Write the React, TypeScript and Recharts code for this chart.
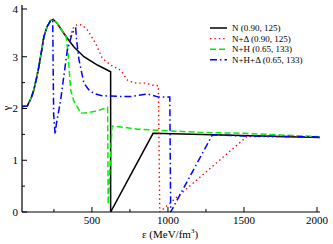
import { LineChart, Line, XAxis, YAxis } from "recharts";

// series: [energy density (MeV/fm^3), gamma]
const nucleons = [
  [42, 2.04], [75, 2.05], [100, 2.2], [118, 2.36], [135, 2.58], [151, 2.81], [168, 3.1],
  [184, 3.39], [205, 3.58], [228, 3.7], [245, 3.72], [270, 3.65], [316, 3.45], [350, 3.31],
  [382, 3.19], [447, 3.0], [536, 2.84], [623, 2.71], [623, 0], [902, 1.52], [2000, 1.44],
];
const nucleonsDelta = [
  [42, 2.04], [75, 2.05], [100, 2.2], [118, 2.36], [135, 2.58], [151, 2.81], [168, 3.1],
  [184, 3.39], [205, 3.58], [228, 3.7], [245, 3.72], [270, 3.65], [316, 3.45], [350, 3.31],
  [365, 3.45], [382, 3.59], [415, 3.63], [440, 3.6], [470, 3.52], [524, 3.26], [568, 2.97],
  [623, 2.84], [689, 2.74], [733, 2.55], [770, 2.5], [799, 2.49], [853, 2.49], [900, 2.45],
  [937, 2.44], [946, 0], [1520, 1.46], [2000, 1.44],
];
const nucleonsHyperons = [
  [42, 2.04], [75, 2.05], [100, 2.2], [118, 2.36], [135, 2.58], [151, 2.81], [168, 3.1],
  [184, 3.39], [205, 3.58], [228, 3.7], [245, 3.72], [270, 3.65], [316, 3.45], [330, 3.4],
  [342, 3.1], [349, 2.81], [360, 2.36], [380, 2.15], [404, 2.03], [426, 1.91], [470, 1.92],
  [513, 1.94], [560, 1.98], [603, 2.02], [607, 0.15], [632, 1.66], [700, 1.64], [800, 1.6],
  [1000, 1.57], [1200, 1.54], [1500, 1.52], [2000, 1.455],
];
const nucleonsHyperonsDelta = [
  [42, 2.04], [75, 2.05], [100, 2.2], [118, 2.36], [135, 2.58], [151, 2.81], [168, 3.1],
  [184, 3.39], [205, 3.58], [228, 3.7], [242, 3.71], [248, 1.9], [258, 1.5], [266, 1.7],
  [294, 2.16], [338, 3.13], [365, 3.4], [382, 3.52], [393, 3.55], [400, 3.3], [415, 2.94],
  [447, 2.49], [480, 2.36], [513, 2.29], [560, 2.25], [623, 2.24], [700, 2.23], [755, 2.23],
  [865, 2.28], [941, 2.22], [1012, 2.22], [1018, 0], [1292, 1.49], [1500, 1.47], [2000, 1.45],
];

const xTicks = [250, 500, 750, 1000, 1250, 1500, 1750, 2000];
const yTicks = [0, 0.5, 1, 1.5, 2, 2.5, 3, 3.5, 4];

const series = [
  { name: "N (0.90, 125)", data: nucleons, color: "#000000", dash: undefined, width: 1.5 },
  { name: "N+\u0394 (0.90, 125)", data: nucleonsDelta, color: "#ff0000", dash: "1.4 3", width: 1.4 },
  { name: "N+H (0.65, 133)", data: nucleonsHyperons, color: "#00ee00", dash: "6 3", width: 1.5 },
  { name: "N+H+\u0394 (0.65, 133)", data: nucleonsHyperonsDelta, color: "#0000ff", dash: "7 3 1.5 3", width: 1.5 },
];

const W = 333;
const H = 244;
const TOP = 5;
const BOTTOM = 212;
const LEFT = 22;
const RIGHT = 320;
const FONT = "'Liberation Serif', 'Times New Roman', serif";

const BottomTick = (p: any) => {
  const v = p.payload.value;
  const major = v % 500 === 0;
  return (
    <g>
      <line x1={p.x} x2={p.x} y1={BOTTOM} y2={BOTTOM - (major ? 5 : 3)} stroke="#000" />
      {major && (
        <text x={p.x} y={BOTTOM + 12} textAnchor="middle" fontSize={11} fontFamily={FONT} fill="#000">
          {v}
        </text>
      )}
    </g>
  );
};

const TopTick = (p: any) => {
  const major = p.payload.value % 500 === 0;
  return <line x1={p.x} x2={p.x} y1={TOP} y2={TOP + (major ? 5 : 3)} stroke="#000" />;
};

const LeftTick = (p: any) => {
  const v = p.payload.value;
  const major = Number.isInteger(v);
  return (
    <g>
      <line x1={LEFT} x2={LEFT + (major ? 5 : 3)} y1={p.y} y2={p.y} stroke="#000" />
      {major && (
        <text x={LEFT - 4} y={p.y} dy="0.35em" textAnchor="end" fontSize={11} fontFamily={FONT} fill="#000">
          {v}
        </text>
      )}
    </g>
  );
};

const RightTick = (p: any) => {
  const major = Number.isInteger(p.payload.value);
  return <line x1={RIGHT} x2={RIGHT - (major ? 5 : 3)} y1={p.y} y2={p.y} stroke="#000" />;
};

export default function App() {
  return (
    <div style={{ position: "absolute", left: 0, top: 0, width: W, height: H, background: "#fff" }}>
      <LineChart width={W} height={H} margin={{ top: TOP, right: W - RIGHT, left: 0, bottom: 0 }}>
        <XAxis
          xAxisId="b"
          type="number"
          dataKey="x"
          domain={[40, 2000]}
          allowDataOverflow
          ticks={xTicks}
          tick={<BottomTick />}
          tickLine={false}
          axisLine={{ stroke: "#000", strokeWidth: 1.2 }}
          height={H - BOTTOM}
        />
        <XAxis
          xAxisId="t"
          orientation="top"
          type="number"
          domain={[40, 2000]}
          allowDataOverflow
          ticks={xTicks}
          tick={<TopTick />}
          tickLine={false}
          axisLine={{ stroke: "#000", strokeWidth: 1.2 }}
          height={0}
        />
        <YAxis
          yAxisId="l"
          type="number"
          domain={[0, 4]}
          allowDataOverflow
          ticks={yTicks}
          tick={<LeftTick />}
          tickLine={false}
          axisLine={{ stroke: "#000", strokeWidth: 1.2 }}
          width={LEFT}
        />
        <YAxis
          yAxisId="r"
          orientation="right"
          type="number"
          domain={[0, 4]}
          allowDataOverflow
          ticks={yTicks}
          tick={<RightTick />}
          tickLine={false}
          axisLine={{ stroke: "#000", strokeWidth: 1.2 }}
          width={0}
        />
        {series.map((s) => (
          <Line
            key={s.name}
            xAxisId="b"
            yAxisId="l"
            data={s.data.map(([x, y]) => ({ x, y }))}
            dataKey="y"
            type="linear"
            stroke={s.color}
            strokeWidth={s.width}
            strokeDasharray={s.dash}
            dot={false}
            activeDot={false}
            isAnimationActive={false}
          />
        ))}
      </LineChart>
      <svg width={W} height={H} style={{ position: "absolute", left: 0, top: 0, pointerEvents: "none" }}>
        {series.map((s, i) => (
          <g key={s.name}>
            <line
              x1={210}
              x2={227}
              y1={28 + i * 10.6}
              y2={28 + i * 10.6}
              stroke={s.color}
              strokeWidth={s.width}
              strokeDasharray={s.dash}
            />
            <text x={232} y={28 + i * 10.6} dy="0.33em" fontSize={9} fontFamily={FONT} fill="#000">
              {s.name}
            </text>
          </g>
        ))}
        <text x={170} y={238} textAnchor="middle" fontSize={11} fontFamily={FONT} fill="#000">
          {"\u03b5 (MeV/fm"}
          <tspan dy={-5} fontSize={7}>3</tspan>
          <tspan dy={5}>)</tspan>
        </text>
        <text
          x={10}
          y={108}
          textAnchor="middle"
          fontSize={11}
          fontFamily={FONT}
          fill="#000"
          transform="rotate(-90 10 108)"
        >
          {"\u03b3"}
        </text>
      </svg>
    </div>
  );
}
